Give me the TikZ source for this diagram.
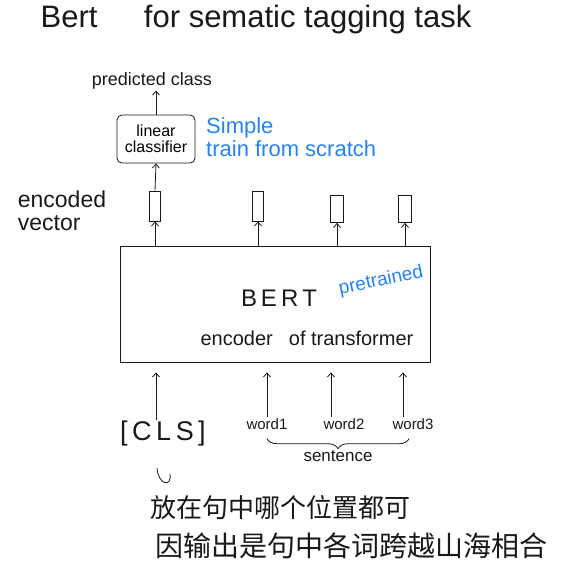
\documentclass[tikz,border=0pt]{standalone}
\usepackage{fontspec}
\setmainfont{Liberation Sans}
\newfontfamily\cjk{Noto Sans CJK SC}
\usepackage{xcolor}
\usepackage{tikz}
\usetikzlibrary{arrows.meta,positioning,calc,decorations.pathreplacing}
\definecolor{ink}{RGB}{25,25,25}
\definecolor{note}{RGB}{40,130,240}
\newcommand{\fs}[1]{\fontsize{#1}{#1}\selectfont}

\begin{document}
\begin{tikzpicture}[x=1pt,y=-1pt,>={Straight Barb[length=4pt,width=7pt]},font=\fs{15}]
\tikzset{box/.style={draw=ink,thick,inner sep=2pt,align=center},
  vec/.style={draw=ink,thick,minimum width=11pt,minimum height=30pt,inner sep=0pt},
  tok/.style={inner sep=1pt,text=ink},
  notetext/.style={text=note,align=left,inner sep=1pt},
  arr/.style={->,thick,draw=ink}}
\useasboundingbox (0,0) rectangle (569,568);
\node[tok,font=\fs{31}] (title) at (256,19) {Bert\hspace{1.5em}for sematic tagging task};
% classifier on top of [CLS]
\node[box,rounded corners=5pt,minimum width=78pt,minimum height=48pt,font=\fs{16}] (lin) at (156,139) {linear\\classifier};
\node[tok,font=\fs{18}] (pred) at (152,81) {predicted class};
\node[notetext,anchor=west,font=\fs{22}] (simple) at (205,137) {Simple\\[1pt]train from scratch};
\draw[arr] (lin.north) -- (lin.north |- pred.south);
% encoded vectors
\node[vec] (v0) at (155,206) {};
\node[vec] (v1) at (258,206) {};
\node[vec,minimum width=13pt,minimum height=27pt] (v2) at (337,209) {};
\node[vec,minimum width=13pt,minimum height=27pt] (v3) at (405,209) {};
\node[tok,align=left,font=\fs{23}] (enc) at (62,211) {encoded\\vector};
\draw[arr] (v0.north) -- (lin.south);
% encoder
\node[box,minimum width=310pt,minimum height=116pt] (bert) at (275,304) {};
\node[tok,font=\fs{24}] (name) at (279,298) {B\,E\,R\,T};
\node[notetext,rotate=12,font=\fs{19}] (pre) at (381,281) {pretrained};
\node[tok,font=\fs{20}] (what) at (307,338) {encoder\hspace{0.8em}of transformer};
\foreach \v in {v0,v1,v2,v3} \draw[arr] (\v |- bert.north) -- (\v.south);
% inputs
\node[tok,font=\fs{27}] (cls) at (163,434) {[\,C\,L\,S\,]};
\node[tok] (w1) at (267,424) {word1};
\node[tok] (w2) at (344,424) {word2};
\node[tok] (w3) at (413,424) {word3};
\draw[arr] ([xshift=-7pt]cls.north) -- ([xshift=-7pt,yshift=-10pt]cls.south |- bert.south);
\draw[arr] (w1.north) -- ([yshift=-10pt]w1 |- bert.south);
\draw[arr] ([xshift=-13pt]w2.north) -- ([xshift=-13pt,yshift=-10pt]w2.north |- bert.south);
\draw[arr] ([xshift=-10pt]w3.north) -- ([xshift=-10pt,yshift=-10pt]w3.north |- bert.south);
\draw[thick,draw=ink,decorate,decoration={brace,mirror,amplitude=10pt}] ([yshift=-8pt]w1.south) -- ([yshift=-8pt,xshift=-4pt]w3.south) node[tok,midway,below=10pt,font=\fs{17}] (sent) {sentence};
% note on [CLS]
\coordinate (hook) at (170,474);
\draw[thick,draw=ink] ([xshift=-6pt,yshift=-20pt]cls.south) .. controls +(1,17) and +(2,14) .. (hook);
\node[tok,anchor=west,font=\cjk\fs{26}] (cn1) at (149,508) {放在句中哪个位置都可};
\node[tok,anchor=west,font=\cjk\fs{28}] (cn2) at (154,546) {因输出是句中各词跨越山海相合};
\end{tikzpicture}
\end{document}
